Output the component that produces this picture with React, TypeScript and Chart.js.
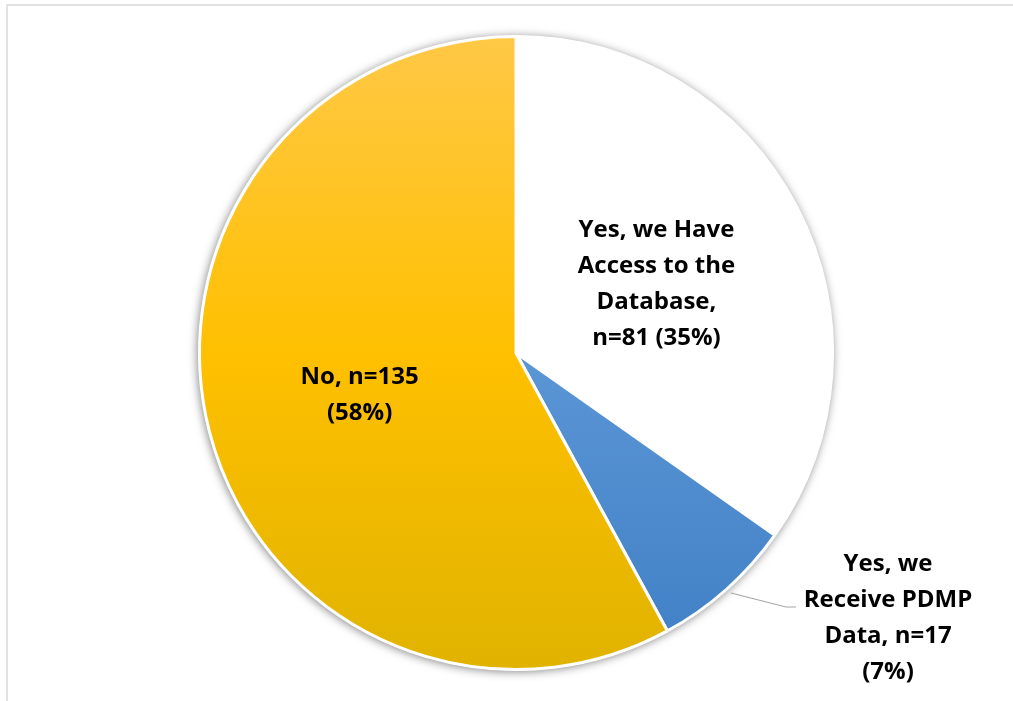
import React, { useEffect, useRef } from "react";
import { Chart, registerables } from "chart.js";

Chart.register(...registerables);

const categories = [
  ["Yes, we Have", "Access to the", "Database,", "n=81 (35%)"],
  ["Yes, we", "Receive PDMP", "Data, n=17", "(7%)"],
  ["No, n=135", "(58%)"],
];
const counts = [81, 17, 135];

const FONT = "bold 24px 'Open Sans', Lato, sans-serif";

const framePlugin = {
  id: "frame",
  beforeDraw(chart: any) {
    const c = chart.ctx;
    c.save();
    c.fillStyle = "#ffffff";
    c.fillRect(0, 0, chart.width, chart.height);
    c.strokeStyle = "#d9d9d9";
    c.lineWidth = 1.5;
    c.beginPath();
    c.moveTo(7, chart.height);
    c.lineTo(7, 5);
    c.lineTo(chart.width, 5);
    c.stroke();
    c.restore();
  },
  beforeDatasetsDraw(chart: any) {
    const meta = chart.getDatasetMeta(0);
    const arc = meta.data[0];
    if (!arc) return;
    const { x, y, outerRadius } = arc.getProps(["x", "y", "outerRadius"], true);
    const c = chart.ctx;
    c.save();
    c.shadowColor = "rgba(0,0,0,0.5)";
    c.shadowBlur = 10;
    c.shadowOffsetX = -1;
    c.shadowOffsetY = 1;
    c.fillStyle = "#ffffff";
    c.beginPath();
    c.arc(x, y, outerRadius + 1, 0, Math.PI * 2);
    c.fill();
    c.restore();
  },
};

const labelPlugin = {
  id: "labels",
  afterDatasetsDraw(chart: any) {
    const meta = chart.getDatasetMeta(0);
    const c = chart.ctx;
    c.save();
    c.font = FONT;
    c.fillStyle = "#000000";
    c.textAlign = "center";
    c.textBaseline = "middle";
    const lh = 36;
    meta.data.forEach((arc: any, i: number) => {
      const p = arc.getProps(["x", "y", "startAngle", "endAngle", "outerRadius"], true);
      const mid = (p.startAngle + p.endAngle) / 2;
      const lines = categories[i];
      let cx: number, cy: number;
      if (i === 1) {
        c.save();
        c.strokeStyle = "#a6a6a6";
        c.lineWidth = 1.2;
        c.beginPath();
        c.moveTo(p.x + 215, p.y + 240);
        c.lineTo(p.x + 270, p.y + 254);
        c.lineTo(p.x + 280, p.y + 254);
        c.stroke();
        c.restore();
        cx = p.x + 372;
        cy = p.y + 265;
      } else {
        cx = p.x + Math.cos(mid) * p.outerRadius * 0.5 - (i === 2 ? 3 : 0);
        cy = p.y + Math.sin(mid) * p.outerRadius * 0.5 + (i === 0 ? 4 : 3);
      }
      const start = cy - ((lines.length - 1) * lh) / 2;
      lines.forEach((t, k) => c.fillText(t, cx, start + k * lh));
    });
    c.restore();
  },
};

function fill(ctx: any) {
  const chart = ctx.chart;
  const a = chart.chartArea;
  const i = ctx.dataIndex;
  if (i === 0) return "#ffffff";
  const stops = i === 1 ? ["#74AEE2", "#5B96D6", "#3F7FC4"] : ["#FFC846", "#FFC000", "#E0B300"];
  if (!a) return stops[1];
  const g = chart.ctx.createLinearGradient(0, a.top, 0, a.bottom);
  g.addColorStop(0, stops[0]);
  g.addColorStop(0.5, stops[1]);
  g.addColorStop(1, stops[2]);
  return g;
}

export default function App() {
  const ref = useRef<HTMLCanvasElement>(null);
  useEffect(() => {
    if (!ref.current) return;
    const chart = new Chart(ref.current, {
      type: "pie",
      data: {
        labels: categories.map((l) => l.join(" ")),
        datasets: [
          {
            data: counts,
            backgroundColor: fill as any,
            borderColor: "#ffffff",
            borderWidth: 3,
            hoverOffset: 0,
          },
        ],
      },
      options: {
        responsive: false,
        animation: false,
        layout: { padding: { top: 35, bottom: 30, left: 198, right: 179 } },
        plugins: {
          legend: { display: false },
          tooltip: { enabled: false },
          title: { display: false },
        },
      },
      plugins: [framePlugin, labelPlugin],
    });
    return () => chart.destroy();
  }, []);
  return (
    <div style={{ position: "fixed", left: 0, top: 0, width: 1013, height: 701 }}>
      <canvas ref={ref} width={1013} height={701} style={{ width: 1013, height: 701 }} />
    </div>
  );
}
